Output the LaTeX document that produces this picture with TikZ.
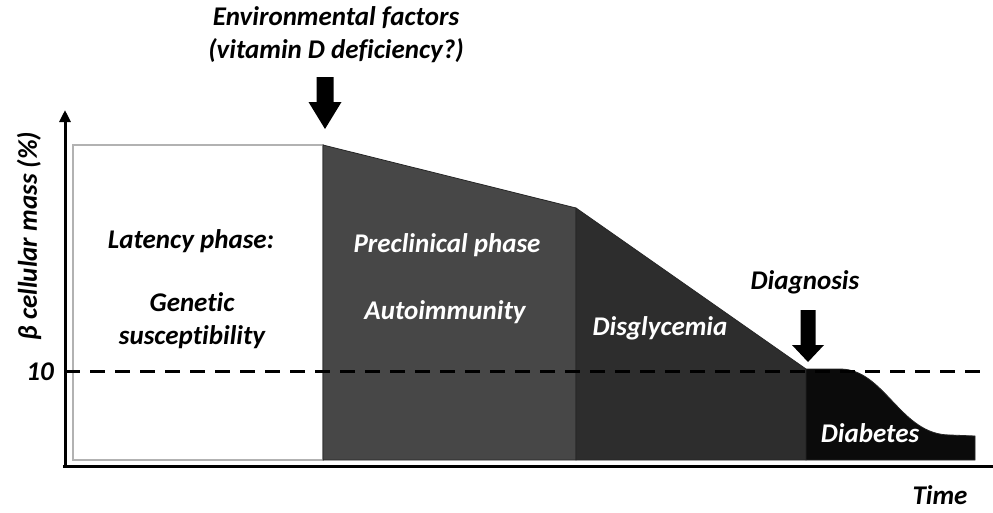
\documentclass[tikz,border=0pt]{standalone}
\usepackage{fontspec}
\setmainfont{Carlito}[Ligatures=NoCommon]
\usepackage{tikz}
\usetikzlibrary{arrows.meta}
\definecolor{preclin}{HTML}{474747}
\definecolor{disgly}{HTML}{2D2D2D}
\definecolor{diab}{HTML}{0B0B0B}

\begin{document}
\begin{tikzpicture}[x=1pt,y=-1pt,
		lbl/.style={font=\fontsize{27}{33}\selectfont\bfseries\itshape, inner sep=0pt, align=center},
		wlbl/.style={lbl, text=white},
		phase/.style={draw=black!85, line width=0.8pt}]
			\useasboundingbox (0,0) rectangle (993,512);
			% phases
			\filldraw[fill=white, draw=gray!60, line width=1.5pt] (73,145) rectangle (323,460);
			\filldraw[phase, fill=preclin] (323,145) -- (576,208) -- (576,460) -- (323,460) -- cycle;
			\filldraw[phase, fill=disgly] (576,208) -- (806,369) -- (806,460) -- (576,460) -- cycle;
			\filldraw[phase, fill=diab] (806,369) -- (840,369) .. controls (885,369) and (900,435) .. (950,435) -- (975,436) -- (975,460) -- (806,460) -- cycle;
			% threshold
			\draw[line width=3pt, dash pattern=on 15pt off 10pt] (65,371) -- (980,371);
			% axes
			\draw[line width=3pt, -{Triangle[width=11pt,length=12pt]}] (65,467) -- (65,110);
			\draw[line width=3pt] (63,466) -- (993,466);
			% block arrows
			\fill (316.5,77) -- (333.5,77) -- (333.5,102) -- (341.5,102) -- (325,129) -- (308.5,102) -- (316.5,102) -- cycle;
			\fill (800.5,310) -- (815.5,310) -- (815.5,345) -- (824,345) -- (808,362) -- (792,345) -- (800.5,345) -- cycle;
			% labels
			\node[lbl] (env) at (336,35) {Environmental factors\\(vitamin D deficiency?)};
			\node[lbl] (diag) at (805,282) {Diagnosis};
			\node[lbl] (time) at (940,495) {Time};
			\node[lbl] (ten) at (40,372) {10};
			\node[lbl, rotate=90] (ylab) at (29,236) {β cellular mass (\%)};
			\node[lbl] (latency) at (191,241) {Latency phase:};
			\node[lbl] (genetic) at (192,321) {Genetic\\susceptibility};
			\node[wlbl] (preclinical) at (447,245) {Preclinical phase};
			\node[wlbl] (autoimm) at (445,312) {Autoimmunity};
			\node[wlbl] (disgly) at (660,328) {Disglycemia};
			\node[wlbl] (diabetes) at (870,433) {Diabetes};
		\end{tikzpicture}
\end{document}
